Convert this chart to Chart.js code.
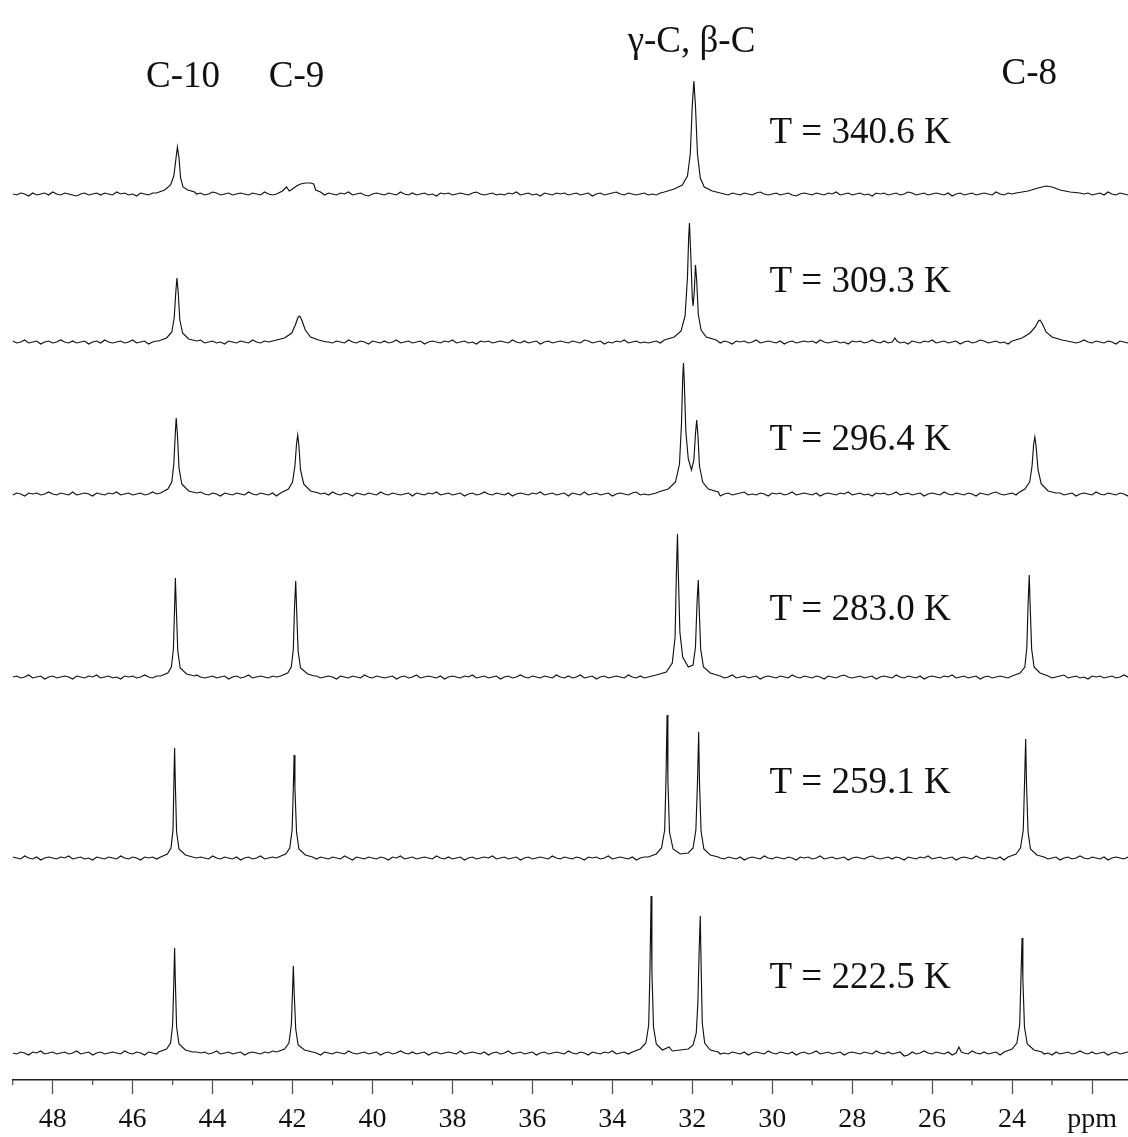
<!DOCTYPE html>
<html>
<head>
<meta charset="utf-8">
<title>13C spectra vs temperature</title>
<script src="https://cdn.jsdelivr.net/npm/chart.js@4/dist/chart.umd.min.js"></script>
<style>
  html, body { margin: 0; padding: 0; background: #fff; }
  #wrap { width: 1128px; height: 1137px; }
</style>
</head>
<body>
<div id="wrap"><canvas id="chart" width="1128" height="1137"></canvas></div>
<script>
// ---- data ----
const temperatures = ['340.6', '309.3', '296.4', '283.0', '259.1', '222.5'];
const peakNames = ['C-10', 'C-9', 'γ-C, β-C', 'C-8'];

// baseline noise, one value every 0.1 ppm from 49.0 down to 21.0
const gridStart = 49.0;
const noise340 = [
  0,-1,1,0,-2,1,-1,0,1,-1,2,0,-1,1,0,-1,-2,0,1,-1,
  0,1,-1,1,0,-1,2,0,1,-1,0,-2,1,0,-1,1,0,1,-1,0,
  -1,1,0,-2,-1,1,0,1,-1,0,2,1,-1,0,1,-1,0,1,0,-1,
  1,0,-1,2,0,-1,1,-1,0,1,-2,0,-1,1,0,1,-1,0,-1,1,
  0,-1,1,0,2,-1,0,1,-1,-2,0,1,0,-1,1,0,-1,2,0,-1,
  1,-1,0,1,-1,0,-2,1,0,1,-1,0,1,0,-1,1,2,0,-1,0,
  1,-1,0,-1,1,0,2,-1,0,1,-1,0,-2,1,0,-1,1,0,1,-1,
  0,1,-1,0,1,-2,0,1,-1,0,1,2,0,-1,1,0,-1,0,1,-1,
  0,-1,1,0,-1,2,0,-1,1,-1,0,1,-2,0,1,-1,0,1,0,-1,
  1,0,-1,1,0,-1,1,2,0,-1,0,1,-1,0,1,-1,-2,0,1,0,
  -1,1,0,-1,1,0,2,-1,0,1,-1,0,1,-1,0,-2,1,0,1,-1,
  0,1,-1,0,2,1,-1,0,1,-1,0,1,0,-1,1,-2,0,1,-1,0,
  1,-1,0,1,0,-1,2,0,-1,1,0,-1,1,-1,0,1,2,0,-1,0,
  -1,1,0,-2,1,0,-1,1,0,1,-1,0,1,-1,2,0,-1,1,0,-1,
  0
];
const noise309 = [
  1,-1,0,2,-1,0,1,-2,0,1,-1,0,2,0,-1,1,-1,0,1,-2,
  0,1,-1,2,0,-1,0,1,-1,0,2,-1,0,1,-2,0,1,0,-1,1,
  0,-2,1,0,-1,1,0,2,-1,0,1,-1,0,-2,1,0,-1,1,0,-1,
  2,0,-1,1,0,-2,1,0,-1,0,1,-1,2,0,-1,1,-2,0,1,0,
  -1,1,0,-1,2,0,-1,1,0,-2,1,0,-1,1,-1,0,2,-1,0,1,
  -1,0,1,-2,0,1,0,-1,1,0,2,-1,0,1,-1,0,-2,1,0,1,
  -1,0,1,0,-1,2,0,-1,1,-1,0,1,-2,0,1,-1,0,1,0,-1,
  1,0,-1,2,1,-1,0,1,-2,0,-1,1,0,2,-1,0,1,-1,0,-1,
  0,1,-1,0,1,-2,1,0,-1,1,2,0,-1,0,1,-1,0,-1,1,0,
  -2,1,0,1,-1,0,2,-1,0,1,0,-1,1,-2,0,1,-1,0,1,0,
  1,-1,2,0,-1,0,1,-1,0,-2,1,0,1,-1,0,2,0,-1,1,-1,
  0,1,-1,0,-2,1,0,-1,1,0,2,-1,0,1,-1,0,1,-2,0,1,
  -1,0,2,1,-1,0,1,-1,0,-2,1,0,-1,1,0,2,-1,0,1,-1,
  0,-1,1,0,-2,1,-1,0,2,0,-1,1,0,-1,1,0,-2,1,0,-1,
  1
];
const noise296 = [
  -1,1,0,-2,1,0,1,-1,0,2,0,-1,1,0,-1,2,-1,0,1,0,
  -2,1,0,-1,1,0,2,-1,0,1,-1,0,1,-1,0,2,0,-1,1,-2,
  0,1,0,-1,1,-1,0,2,0,-1,1,0,-2,1,0,-1,1,0,-1,2,
  0,-1,1,0,-1,1,-2,0,1,0,-1,2,0,-1,1,0,-1,0,1,-1,
  2,0,-1,1,0,-2,1,0,-1,1,0,-1,2,0,-1,1,0,-1,0,1,
  -2,1,0,-1,1,0,2,-1,0,1,-1,0,1,-2,0,1,-1,0,2,0,
  -1,1,0,-1,1,-2,0,1,0,-1,1,0,2,-1,0,1,-1,0,1,-2,
  1,0,-1,2,-1,0,1,-1,0,1,-2,0,1,0,-1,1,2,-1,0,-1,
  0,1,-1,0,-2,1,0,1,-1,0,2,0,-1,1,-1,0,1,-2,0,1,
  -1,0,1,2,-1,0,-1,1,0,-2,1,0,1,-1,0,2,-1,0,1,0,
  -1,1,-2,0,1,0,-1,1,0,2,-1,0,1,-1,0,-2,1,0,1,-1,
  0,2,-1,0,1,-1,0,1,-2,0,1,0,-1,2,0,-1,1,0,-1,1,
  0,-2,1,0,-1,1,2,0,-1,0,1,-1,0,1,-2,0,1,-1,0,2,
  -1,0,1,-1,0,1,-2,0,1,0,-1,2,0,-1,1,0,-1,1,0,-2,
  0
];
const noise283 = [
  0,1,-1,0,2,-1,0,1,-2,0,1,-1,0,1,0,-2,1,0,-1,1,
  0,2,-1,0,1,-1,0,-2,1,0,1,-1,0,2,0,-1,1,0,-1,1,
  -2,0,1,0,-1,1,2,0,-1,0,1,-1,0,1,-2,0,1,-1,0,2,
  -1,0,1,0,-1,1,0,-2,1,0,-1,1,0,2,-1,0,1,-1,0,1,
  0,-2,1,0,-1,1,0,-1,2,0,-1,1,0,-1,0,1,-2,0,1,-1,
  0,2,-1,0,1,0,-1,1,-2,0,1,0,-1,1,0,2,-1,0,1,-1,
  0,1,-2,0,1,-1,0,2,0,-1,1,0,-1,1,0,-1,2,0,-1,1,
  -1,0,2,-1,0,1,-2,0,1,-1,0,1,0,-1,2,0,-1,1,-1,0,
  1,-2,0,1,0,-1,1,0,2,-1,0,-1,1,0,-2,1,0,1,-1,0,
  2,-1,0,1,-1,0,1,-2,0,1,0,-1,1,0,-1,2,0,-1,1,0,
  -1,1,0,-2,1,0,-1,1,2,0,-1,0,1,-1,0,1,-2,0,1,0,
  -1,2,0,-1,1,0,-1,1,-2,0,1,0,-1,1,0,2,-1,0,1,-1,
  0,1,-2,0,1,-1,0,1,0,-1,2,0,-1,1,-1,0,1,-2,0,1,
  -1,0,1,2,-1,0,1,-1,0,-2,1,0,1,-1,0,1,-1,0,2,0,
  -1
];
const noise259 = [
  1,0,-1,2,0,-1,1,-2,0,1,0,-1,1,0,2,-1,0,1,-1,0,
  -2,1,0,-1,1,0,-1,2,0,-1,1,0,-2,1,0,1,-1,0,2,-1,
  0,1,-1,0,1,-2,0,1,0,-1,2,0,-1,1,0,-1,1,-2,0,1,
  -1,0,2,-1,0,1,0,-1,1,0,-2,1,0,-1,2,0,-1,1,0,-1,
  1,0,-1,2,0,-2,1,0,-1,1,0,-1,1,0,-2,1,0,2,-1,0,
  1,-1,0,1,0,-1,2,0,-1,1,-1,0,1,-2,0,1,-1,0,1,0,
  2,-1,0,1,-1,0,1,-2,0,1,-1,0,1,0,-1,2,0,-1,1,0,
  -1,1,0,-2,1,0,1,-1,0,2,-1,0,1,0,-1,1,-2,0,1,-1,
  0,2,-1,0,1,-1,0,1,-2,0,1,0,-1,1,0,-1,2,0,-1,1,
  0,-1,1,-2,0,1,0,-1,2,0,-1,1,0,-1,1,0,-2,1,0,1,
  -1,0,2,-1,0,1,-1,0,1,-2,0,1,0,-1,1,2,0,-1,0,1,
  -1,1,0,-2,1,0,-1,1,0,2,-1,0,1,-1,0,1,-2,0,1,0,
  -1,2,0,-1,1,0,-1,1,-2,0,1,0,-1,1,0,2,-1,0,1,-1,
  0,1,-2,0,1,-1,0,2,0,-1,1,0,-1,1,-2,0,1,0,-1,1,
  0
];
const noise222 = [
  0,-1,1,0,-2,1,0,2,-1,0,1,-1,0,1,-1,0,2,-1,0,1,
  -2,0,1,-1,0,1,0,-1,2,0,-1,1,0,-2,1,0,-1,1,0,2,
  -1,0,1,-1,0,-2,1,0,1,-1,0,2,-1,0,1,-1,0,1,-2,0,
  1,0,-1,1,0,2,-1,0,-1,1,0,-1,2,0,-1,1,0,-2,1,0,
  -1,1,0,-1,2,0,-1,0,1,-1,0,1,-2,0,1,-1,0,2,0,-1,
  1,-1,0,1,-2,0,1,-1,0,1,0,-1,2,-1,0,1,0,-1,1,-2,
  0,1,-1,0,2,-1,0,1,-1,0,1,-2,0,1,-1,0,1,0,-1,2,
  0,-1,1,0,-2,1,0,-1,1,0,2,-1,0,1,-1,0,-2,1,0,1,
  -1,0,2,-1,0,1,-1,0,1,-2,0,1,0,-1,1,0,2,-1,0,-1,
  1,0,-1,1,-2,0,1,0,-1,2,0,-1,1,0,-1,1,-2,0,1,-1,
  0,2,-1,0,1,-1,0,1,-2,0,1,0,-1,1,0,-1,2,0,-1,1,
  -1,0,1,-3,-2,1,-1,0,2,0,-1,1,0,-1,1,-2,0,1,0,-1,
  2,0,-1,1,-1,0,1,-2,0,1,0,-1,1,0,2,-1,0,1,-1,0,
  -2,1,-1,0,1,-1,0,2,0,-1,1,-1,0,1,-2,0,1,-1,0,1,
  0
];

// resonance profiles: [ppm, intensity above baseline]
const peaks340 = [
  [[45.4,1],[45.2,4],[45.05,9],[44.97,18],[44.92,34],[44.88,47],[44.84,36],[44.8,16],[44.74,7],[44.62,4],[44.45,2]],
  [[42.4,0],[42.25,3],[42.15,7],[42.08,3],[42.0,5],[41.9,8],[41.8,10],[41.68,11],[41.55,11],[41.47,10],[41.42,4],[41.3,2]],
  [[32.7,2],[32.45,5],[32.25,9],[32.12,18],[32.05,40],[32.0,88],[31.96,113],[31.92,88],[31.87,40],[31.8,16],[31.7,7],[31.5,3],[31.3,1]],
  [[23.9,1],[23.6,3],[23.35,6],[23.15,8],[23.0,7],[22.8,4],[22.55,2],[22.3,1]]
];
const peaks309 = [
  [[45.35,1],[45.15,4],[45.02,10],[44.96,24],[44.92,50],[44.89,64],[44.86,50],[44.82,22],[44.75,9],[44.6,3],[44.4,1]],
  [[42.5,1],[42.2,4],[42.02,9],[41.93,17],[41.86,25],[41.82,26],[41.77,22],[41.68,12],[41.55,5],[41.35,2],[41.15,0]],
  [[32.7,2],[32.45,5],[32.28,11],[32.18,26],[32.12,65],[32.09,105],[32.07,119],[32.04,90],[32.0,45],[31.98,36],[31.95,50],[31.92,77],[31.89,62],[31.85,28],[31.78,12],[31.65,5],[31.4,2]],
  [[27.0,0],[26.93,4],[26.88,1]],
  [[24.0,1],[23.75,4],[23.55,9],[23.42,15],[23.34,21],[23.3,22],[23.24,18],[23.15,10],[23.0,5],[22.75,2],[22.5,0]]
];
const peaks296 = [
  [[45.3,1],[45.12,5],[45.02,12],[44.97,30],[44.93,62],[44.91,76],[44.88,60],[44.84,26],[44.77,10],[44.6,3],[44.4,1]],
  [[42.3,1],[42.1,5],[42.0,12],[41.94,28],[41.9,50],[41.87,59],[41.84,48],[41.8,24],[41.72,10],[41.55,3],[41.35,1]],
  [[32.85,2],[32.6,5],[32.42,12],[32.32,30],[32.27,70],[32.24,115],[32.22,131],[32.2,112],[32.16,62],[32.1,35],[32.02,24],[31.96,34],[31.92,60],[31.89,74],[31.86,60],[31.82,28],[31.74,12],[31.6,5],[31.35,2]],
  [[23.85,1],[23.68,5],[23.56,12],[23.5,28],[23.46,50],[23.43,57],[23.4,48],[23.35,24],[23.27,10],[23.1,3],[22.9,1]]
];
const peaks283 = [
  [[45.3,1],[45.12,4],[45.03,10],[44.98,28],[44.95,70],[44.93,99],[44.91,72],[44.87,26],[44.81,9],[44.65,3],[44.45,1]],
  [[42.3,1],[42.12,4],[42.03,10],[41.98,28],[41.95,70],[41.92,96],[41.9,70],[41.86,26],[41.8,9],[41.62,3],[41.45,1]],
  [[32.9,2],[32.65,5],[32.5,14],[32.43,40],[32.4,100],[32.37,143],[32.35,105],[32.31,45],[32.24,20],[32.1,10],[31.98,12],[31.92,30],[31.88,75],[31.85,97],[31.83,72],[31.79,28],[31.72,10],[31.55,4],[31.3,1]],
  [[24.0,1],[23.8,4],[23.68,10],[23.63,30],[23.6,72],[23.57,102],[23.55,74],[23.51,28],[23.45,10],[23.3,4],[23.1,1]]
];
const peaks259 = [
  [[45.3,1],[45.13,4],[45.04,10],[44.99,28],[44.97,70],[44.95,110],[44.93,72],[44.9,26],[44.84,9],[44.68,3],[44.5,1]],
  [[42.35,1],[42.17,4],[42.07,10],[42.01,28],[41.98,70],[41.96,103],[41.94,70],[41.9,26],[41.84,9],[41.68,3],[41.5,1]],
  [[33.1,1],[32.9,4],[32.77,10],[32.69,28],[32.66,75],[32.63,143],[32.61,78],[32.57,26],[32.48,9],[32.3,4],[32.1,5],[31.98,10],[31.91,28],[31.87,75],[31.84,126],[31.82,76],[31.78,27],[31.71,9],[31.55,3],[31.35,1]],
  [[24.1,1],[23.9,4],[23.79,10],[23.72,28],[23.69,72],[23.66,119],[23.64,76],[23.6,26],[23.54,9],[23.38,3],[23.2,1]]
];
const peaks222 = [
  [[45.35,1],[45.15,4],[45.05,10],[45.0,28],[44.97,70],[44.95,105],[44.93,70],[44.9,26],[44.84,9],[44.68,3],[44.5,1]],
  [[42.4,1],[42.2,4],[42.09,10],[42.03,28],[42.0,62],[41.98,87],[41.96,62],[41.92,24],[41.86,8],[41.7,3],[41.5,1]],
  [[33.5,1],[33.3,4],[33.16,10],[33.09,28],[33.06,80],[33.03,157],[33.01,82],[32.97,26],[32.9,9],[32.75,3],[32.58,6],[32.5,2],[32.3,3],[32.1,4],[31.98,8],[31.9,20],[31.86,50],[31.83,100],[31.8,137],[31.78,90],[31.75,30],[31.69,10],[31.55,3],[31.35,1]],
  [[25.4,0],[25.33,6],[25.27,1]],
  [[24.2,1],[24.0,4],[23.88,10],[23.81,28],[23.78,72],[23.75,115],[23.73,74],[23.69,26],[23.62,9],[23.45,3],[23.25,1]]
];

const noiseSets = [noise340, noise309, noise296, noise283, noise259, noise222];
const peakSets = [peaks340, peaks309, peaks296, peaks283, peaks259, peaks222];

// ---- layout ----
const stackOffsets = [886, 738, 586, 403, 222, 27];
const peakLabelPpm = [44.74, 41.9, 32.02, 23.57];
const peakLabelY = [993, 993, 1028, 996];
const tempLabelPpm = 30.07;
const tempLabelY = [937, 788, 630, 460, 287, 92];
const serif = '"Liberation Serif", "Times New Roman", serif';

// baseline points outside the peak spans plus the peak profiles, sorted by ppm
function buildTrace(noise, groups, offset) {
  const spans = groups.map(g => [Math.min(...g.map(p => p[0])), Math.max(...g.map(p => p[0]))]);
  const pts = [];
  noise.forEach((v, i) => {
    const ppm = (gridStart * 10 - i) / 10;
    if (spans.some(([a, b]) => ppm >= a && ppm <= b)) return;
    pts.push({ x: ppm, y: offset + v });
  });
  groups.forEach(g => g.forEach(([x, h]) => pts.push({ x: x, y: offset + h })));
  pts.sort((a, b) => b.x - a.x);
  return pts;
}

const annotate = {
  id: 'annotate',
  afterDraw(chart) {
    const { ctx, chartArea } = chart;
    const x = chart.scales.x, y = chart.scales.y;
    ctx.save();
    // short ticks at odd ppm
    ctx.strokeStyle = '#555';
    ctx.lineWidth = 1.3;
    for (let v = Math.ceil(x.min); v <= x.max; v++) {
      if (v % 2 === 0) continue;
      const px = x.getPixelForValue(v);
      ctx.beginPath();
      ctx.moveTo(px, chartArea.bottom);
      ctx.lineTo(px, chartArea.bottom + 5);
      ctx.stroke();
    }
    ctx.fillStyle = '#111';
    ctx.font = '37px ' + serif;
    ctx.textBaseline = 'alphabetic';
    ctx.textAlign = 'center';
    peakNames.forEach((name, i) => {
      ctx.fillText(name, x.getPixelForValue(peakLabelPpm[i]), y.getPixelForValue(peakLabelY[i]));
    });
    ctx.textAlign = 'left';
    temperatures.forEach((t, i) => {
      ctx.fillText('T = ' + t + ' K', x.getPixelForValue(tempLabelPpm), y.getPixelForValue(tempLabelY[i]));
    });
    ctx.restore();
  }
};

new Chart(document.getElementById('chart'), {
  type: 'line',
  data: {
    datasets: temperatures.map((t, k) => ({
      label: 'T = ' + t + ' K',
      data: buildTrace(noiseSets[k], peakSets[k], stackOffsets[k]),
      borderColor: '#111',
      borderWidth: 1.15,
      pointRadius: 0,
      tension: 0,
      fill: false
    }))
  },
  options: {
    responsive: false,
    animation: false,
    parsing: false,
    layout: { padding: { left: 12.7, right: 0, top: 0, bottom: 0 } },
    scales: {
      x: {
        type: 'linear',
        reverse: true,
        min: 21.1,
        max: 49,
        afterFit: s => { s.height = 57; },
        border: { color: '#222', width: 1.5 },
        grid: {
          drawOnChartArea: false,
          tickLength: 14,
          tickWidth: 1.3,
          tickColor: c => (c.tick && c.tick.value % 2 === 0) ? '#555' : 'rgba(0,0,0,0)'
        },
        ticks: {
          stepSize: 1,
          autoSkip: false,
          maxRotation: 0,
          includeBounds: false,
          padding: 9,
          color: '#111',
          font: { family: serif, size: 28 },
          callback: v => v === 22 ? 'ppm' : (v % 2 === 0 ? String(v) : '')
        }
      },
      y: { display: false, min: 0, max: 1080 }
    },
    plugins: {
      legend: { display: false },
      tooltip: { enabled: false }
    }
  },
  plugins: [annotate]
});
</script>
</body>
</html>
